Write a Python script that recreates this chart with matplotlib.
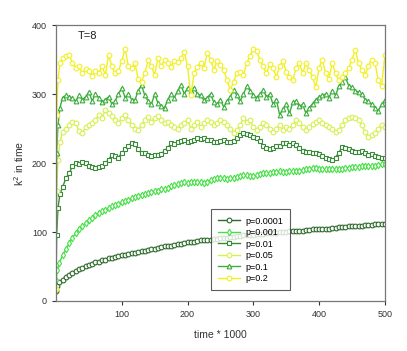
import matplotlib
matplotlib.use("Agg")
import matplotlib.pyplot as plt

plt.rcParams['font.family'] = ['Liberation Sans', 'DejaVu Sans']

# time grids (time * 1000)
t_slow = [0, 2] + list(range(5, 501, 5))
t_fast = [0, 1, 3, 6] + list(range(10, 501, 5))

# slow-growing series (p=0.0001, p=0.001)
k_p0001 = [15, 22,
           27, 31, 35, 38, 41, 44, 46, 48, 50, 52,
           54, 56, 57, 59, 60, 62, 63, 64, 65, 66,
           67, 68, 69, 70, 71, 72, 73, 74, 75, 76,
           77, 78, 79, 79, 80, 81, 82, 83, 84, 85,
           86, 86, 87, 88, 88, 89, 89, 90, 90, 91,
           92, 92, 93, 93, 94, 94, 95, 95, 96, 96,
           97, 97, 97, 98, 98, 99, 99, 100, 100, 100,
           101, 101, 102, 102, 102, 103, 103, 104, 104, 104,
           105, 105, 105, 106, 106, 107, 107, 107, 108, 108,
           108, 109, 109, 110, 110, 110, 111, 111, 112, 112]

k_p001 = [30, 45,
          55, 66, 75, 84, 92, 98, 104, 109, 113, 117,
          121, 124, 127, 130, 132, 135, 137, 139, 141, 143,
          145, 147, 149, 151, 152, 154, 155, 157, 158, 159,
          160, 162, 163, 164, 166, 168, 169, 171, 172, 171,
          172, 173, 173, 172, 171, 173, 175, 177, 178, 179,
          178, 177, 178, 179, 180, 181, 182, 182, 181, 181,
          182, 184, 185, 186, 186, 187, 187, 188, 187, 187,
          188, 188, 189, 189, 190, 191, 192, 193, 193, 192,
          191, 191, 192, 191, 191, 192, 192, 193, 193, 194,
          194, 194, 195, 195, 195, 196, 196, 197, 198, 198]

# fast saturating series (p=0.01 ... p=0.2)
k_p01 = [18, 95, 135, 155,
         165, 178, 185, 196, 200, 198, 202, 200, 196, 194,
         193, 194, 196, 200, 205, 212, 210, 208, 215, 220,
         225, 229, 228, 220, 214, 215, 212, 210, 211, 212,
         213, 218, 222, 229, 228, 230, 232, 233, 230, 232,
         234, 236, 235, 236, 234, 233, 231, 230, 232, 233,
         231, 230, 232, 236, 240, 244, 242, 240, 238, 236,
         232, 225, 222, 220, 222, 225, 224, 229, 229, 226,
         229, 226, 222, 218, 216, 216, 214, 215, 213, 210,
         208, 206, 204, 208, 215, 223, 222, 220, 218, 216,
         216, 218, 215, 212, 213, 210, 209, 208, 208]

k_p05 = [18, 160, 205, 230,
         245, 250, 255, 259, 258, 246, 244, 252, 255, 258,
         262, 270, 265, 277, 272, 268, 262, 258, 265, 270,
         262, 255, 250, 248, 255, 262, 267, 260, 265, 268,
         263, 258, 260, 255, 252, 250, 255, 258, 262, 250,
         255, 260, 252, 258, 262, 260, 255, 258, 262, 260,
         255, 250, 244, 248, 255, 265, 260, 262, 252, 248,
         252, 258, 255, 250, 245, 250, 255, 248, 252, 250,
         255, 262, 258, 252, 248, 252, 256, 260, 262, 258,
         255, 252, 250, 245, 248, 255, 262, 265, 267, 265,
         262, 255, 245, 238, 240, 244, 250, 255, 252]

k_p1 = [18, 214, 255, 280,
        295, 298, 296, 294, 290, 298, 292, 296, 303, 290,
        300, 295, 288, 292, 296, 285, 290, 300, 309, 295,
        300, 292, 291, 305, 313, 298, 290, 285, 300, 287,
        282, 280, 292, 300, 295, 305, 313, 300, 309, 305,
        309, 300, 298, 291, 295, 300, 288, 285, 292, 281,
        290, 296, 306, 298, 290, 300, 311, 305, 298, 295,
        300, 306, 296, 300, 285, 292, 270, 278, 285, 272,
        288, 290, 282, 285, 272, 280, 286, 292, 296, 298,
        300, 295, 305, 298, 311, 318, 325, 312, 310, 305,
        303, 300, 292, 290, 285, 280, 276, 285, 291]

k_p2 = [18, 270, 320, 345,
        352, 355, 357, 345, 338, 340, 330, 336, 334, 326,
        333, 331, 340, 328, 357, 340, 330, 333, 348, 366,
        340, 338, 345, 322, 318, 330, 349, 340, 328, 352,
        340, 350, 345, 339, 348, 346, 352, 361, 340, 298,
        330, 339, 345, 338, 360, 350, 335, 348, 342, 335,
        320, 306, 318, 330, 332, 328, 345, 355, 366, 362,
        350, 340, 330, 343, 338, 325, 340, 348, 332, 325,
        320, 338, 345, 330, 345, 335, 325, 310, 338, 350,
        330, 322, 345, 330, 320, 325, 330, 338, 350, 364,
        345, 335, 328, 340, 350, 345, 320, 311, 356]

series = [
    ('p=0.0001', t_slow, k_p0001, '#2d6a2d', 'o'),
    ('p=0.001', t_slow, k_p001, '#46e046', 'd'),
    ('p=0.01', t_fast, k_p01, '#3a8a3a', 's'),
    ('p=0.05', t_fast, k_p05, '#d6f050', 'o'),
    ('p=0.1', t_fast, k_p1, '#3cae3c', '^'),
    ('p=0.2', t_fast, k_p2, '#f2f020', 'o'),
]

fig = plt.figure(figsize=(4.07, 3.51), dpi=100)
ax = fig.add_axes([0.1376, 0.1425, 0.808, 0.786])

for label, t, k, color, marker in series:
    ax.plot(t, k, color=color, lw=1.0, marker=marker, markersize=3.4,
            markerfacecolor='white', markeredgecolor=color,
            markeredgewidth=0.8, label=label)

ax.set_xlim(0, 500)
ax.set_ylim(0, 400)
ax.set_xticks([100, 200, 300, 400, 500])
ax.set_yticks([0, 100, 200, 300, 400])
ax.tick_params(labelsize=6.5, length=3, width=0.8, colors='#333333')
for s in ax.spines.values():
    s.set_color('#777777')
    s.set_linewidth(0.9)

ax.set_xlabel('time * 1000', fontsize=7.5, color='#333333', labelpad=8)
ax.set_ylabel('k$^2$ in time', fontsize=7.5, color='#333333', labelpad=4)
ax.text(33, 380, 'T=8', fontsize=8, color='#222222')

leg = ax.legend(loc='lower left', bbox_to_anchor=(0.458, 0.022),
                fontsize=6.5, frameon=True, fancybox=False,
                handlelength=2.4, borderpad=0.8, labelspacing=0.28,
                handletextpad=0.6)
leg.get_frame().set_edgecolor('#333333')
leg.get_frame().set_linewidth(0.8)

fig.savefig('out.png', dpi=100)
